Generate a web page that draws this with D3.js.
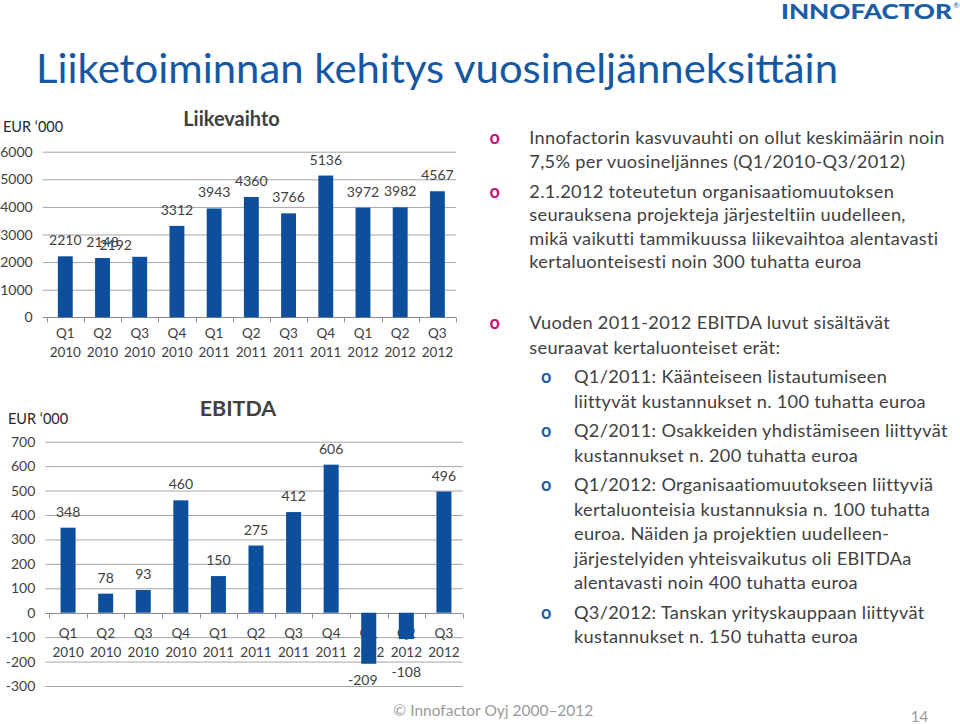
<!DOCTYPE html>
<html>
<head>
<meta charset="utf-8">
<script src="https://cdn.jsdelivr.net/npm/d3@7"></script>
<style>
	body { margin: 0; background: #fff; }
	svg { display: block; font-family: Lato, "Open Sans", sans-serif; }
</style>
</head>
<body>
<svg id="slide" width="960" height="724"></svg>
<script>
// Chart data
const quarters = ["Q1", "Q2", "Q3", "Q4", "Q1", "Q2", "Q3", "Q4", "Q1", "Q2", "Q3"];
const years = ["2010", "2010", "2010", "2010", "2011", "2011", "2011", "2011", "2012", "2012", "2012"];
const liikevaihto = [2210, 2148, 2192, 3312, 3943, 4360, 3766, 5136, 3972, 3982, 4567];
const ebitda = [348, 78, 93, 460, 150, 275, 412, 606, -209, -108, 496];
const liikevaihtoTicks = [0, 1000, 2000, 3000, 4000, 5000, 6000];
const ebitdaTicks = [-300, -200, -100, 0, 100, 200, 300, 400, 500, 600, 700];

// Bullet texts
const bulletsTop = [
	["Innofactorin kasvuvauhti on ollut keskimäärin noin", "7,5% per vuosineljännes (Q1/2010-Q3/2012)"],
	["2.1.2012 toteutetun organisaatiomuutoksen", "seurauksena projekteja järjesteltiin uudelleen,",
		"mikä vaikutti tammikuussa liikevaihtoa alentavasti", "kertaluonteisesti noin 300 tuhatta euroa"],
];
const bulletsEbitda = [
	{ level: 0, lines: ["Vuoden 2011-2012 EBITDA luvut sisältävät", "seuraavat kertaluonteiset erät:"] },
	{ level: 1, lines: ["Q1/2011: Käänteiseen listautumiseen", "liittyvät kustannukset n. 100 tuhatta euroa"] },
	{ level: 1, lines: ["Q2/2011: Osakkeiden yhdistämiseen liittyvät", "kustannukset n. 200 tuhatta euroa"] },
	{ level: 1, lines: ["Q1/2012: Organisaatiomuutokseen liittyviä", "kertaluonteisia kustannuksia n. 100 tuhatta",
		"euroa. Näiden ja projektien uudelleen-", "järjestelyiden yhteisvaikutus oli EBITDAa",
		"alentavasti noin 400 tuhatta euroa"] },
	{ level: 1, lines: ["Q3/2012: Tanskan yrityskauppaan liittyvät", "kustannukset n. 150 tuhatta euroa"] },
];

const blue = "#0d4f9c";
const textGrey = "#404040";
const gridGrey = "#a6a6a6";

const svg = d3.select("#slide");

// Slide title and logo
svg.append("text")
	.attr("x", 36).attr("y", 82.5)
	.attr("font-size", 40)
	.attr("textLength", 802).attr("lengthAdjust", "spacingAndGlyphs")
	.attr("fill", "#1458a3")
	.text("Liiketoiminnan kehitys vuosineljänneksittäin");

svg.append("text")
	.attr("x", 781).attr("y", 18.5)
	.attr("font-size", 20).attr("font-weight", 900)
	.attr("textLength", 171).attr("lengthAdjust", "spacingAndGlyphs")
	.attr("fill", "#1b5ea6")
	.text("INNOFACTOR");
svg.append("text")
	.attr("x", 953).attr("y", 8)
	.attr("font-size", 8).attr("fill", "#1b5ea6")
	.text("®");

function drawBarChart(opt) {
	const g = svg.append("g");

	const x = d3.scaleBand()
		.domain(d3.range(opt.values.length))
		.range([opt.left, opt.right])
		.paddingInner(0.6)
		.paddingOuter(0.3);
	const step = x.step();

	const y = d3.scaleLinear()
		.domain(d3.extent(opt.ticks))
		.range([opt.bottom, opt.top]);

	// gridlines (the zero line is the category axis)
	g.append("g")
		.selectAll("line")
		.data(opt.ticks.filter((t) => t !== 0))
		.join("line")
		.attr("x1", opt.left - 4).attr("x2", opt.right)
		.attr("y1", (d) => y(d) + 0.5).attr("y2", (d) => y(d) + 0.5)
		.attr("stroke", gridGrey);

	// y tick labels
	g.append("g")
		.attr("font-size", 14)
		.attr("fill", textGrey)
		.attr("text-anchor", "end")
		.selectAll("text")
		.data(opt.ticks)
		.join("text")
		.attr("x", opt.left - 14)
		.attr("y", (d) => y(d))
		.attr("dy", "0.36em")
		.text((d) => d);

	// category axis
	const y0 = Math.round(y(0)) + 0.5;
	g.append("line")
		.attr("x1", opt.left - 4).attr("x2", opt.right)
		.attr("y1", y0).attr("y2", y0)
		.attr("stroke", "#8c8c8c");
	g.append("g")
		.selectAll("line")
		.data(d3.range(opt.values.length + 1))
		.join("line")
		.attr("x1", (i) => Math.round(opt.left + i * step) + 0.5)
		.attr("x2", (i) => Math.round(opt.left + i * step) + 0.5)
		.attr("y1", y0).attr("y2", y0 + 5)
		.attr("stroke", "#8c8c8c");

	const cats = g.append("g")
		.attr("font-size", 13.5)
		.attr("fill", textGrey)
		.attr("text-anchor", "middle")
		.selectAll("text")
		.data(opt.values)
		.join("text")
		.attr("x", (d, i) => x(i) + x.bandwidth() / 2)
		.attr("y", opt.catY);
	cats.append("tspan").text((d, i) => quarters[i]);
	cats.append("tspan")
		.attr("x", (d, i) => x(i) + x.bandwidth() / 2)
		.attr("dy", 18.7)
		.text((d, i) => years[i]);

	// bars
	g.append("g")
		.attr("fill", blue)
		.selectAll("rect")
		.data(opt.values)
		.join("rect")
		.attr("x", (d, i) => x(i))
		.attr("width", x.bandwidth())
		.attr("y", (d) => y(Math.max(0, d)))
		.attr("height", (d) => Math.abs(y(d) - y(0)));

	// value labels
	g.append("g")
		.attr("font-size", 14)
		.attr("fill", textGrey)
		.attr("text-anchor", "middle")
		.selectAll("text")
		.data(opt.values)
		.join("text")
		.attr("x", (d, i) => x(i) + x.bandwidth() / 2 + (opt.nudge[i] ? opt.nudge[i][0] : 0))
		.attr("y", (d, i) => (d >= 0 ? y(d) - 11 : y(d) + 21) + (opt.nudge[i] ? opt.nudge[i][1] : 0))
		.text((d) => d);

	// titles
	g.append("text")
		.attr("x", opt.titleX).attr("y", opt.titleY)
		.attr("text-anchor", "middle")
		.attr("font-size", opt.titleSize).attr("font-weight", 700)
		.attr("fill", textGrey)
		.text(opt.title);
	g.append("text")
		.attr("x", opt.unitX).attr("y", opt.unitY)
		.attr("font-size", 14.5)
		.attr("fill", "#262626")
		.text("EUR ‘000");
}

drawBarChart({
	values: liikevaihto, ticks: liikevaihtoTicks,
	left: 46.7, right: 456, top: 151.7, bottom: 317.3,
	catY: 338, title: "Liikevaihto", titleX: 231.5, titleY: 126, titleSize: 20,
	unitX: 3, unitY: 131.7,
	nudge: { 2: [-24, 4] },
});

drawBarChart({
	values: ebitda, ticks: ebitdaTicks,
	left: 49.3, right: 462.7, top: 441.7, bottom: 686,
	catY: 638, title: "EBITDA", titleX: 238, titleY: 415.7, titleSize: 21.5,
	unitX: 8, unitY: 424.3,
	nudge: { 8: [-6, 0], 9: [0, 17] },
});

// Bullet list on the right
function bulletBlock(items, startY, lineH, gap) {
	let yPos = startY;
	items.forEach((item) => {
		const level = item.level || 0;
		const lines = item.lines || item;
		svg.append("text")
			.attr("x", level ? 541 : 489.5)
			.attr("y", yPos)
			.attr("font-size", 18).attr("font-weight", 700)
			.attr("fill", level ? "#1b5ea6" : "#c4127b")
			.text("o");
		lines.forEach((line, k) => {
			svg.append("text")
				.attr("x", level ? 574 : 529.3)
				.attr("y", yPos + k * lineH)
				.attr("font-size", 18.2)
				.attr("letter-spacing", 0.3)
				.attr("fill", textGrey)
				.text(line);
		});
		yPos += lines.length * lineH + gap;
	});
}

bulletBlock(bulletsTop, 144.3, 23.5, 6.5);
bulletBlock(bulletsEbitda, 329.3, 24.4, 5.2);

// Footer
svg.append("text")
	.attr("x", 393.3).attr("y", 716)
	.attr("font-size", 15.5).attr("fill", "#9a9a9a")
	.text("© Innofactor  Oyj 2000–2012");
svg.append("text")
	.attr("x", 910.7).attr("y", 721.7)
	.attr("font-size", 15).attr("fill", "#9a9a9a")
	.text("14");
</script>
</body>
</html>
